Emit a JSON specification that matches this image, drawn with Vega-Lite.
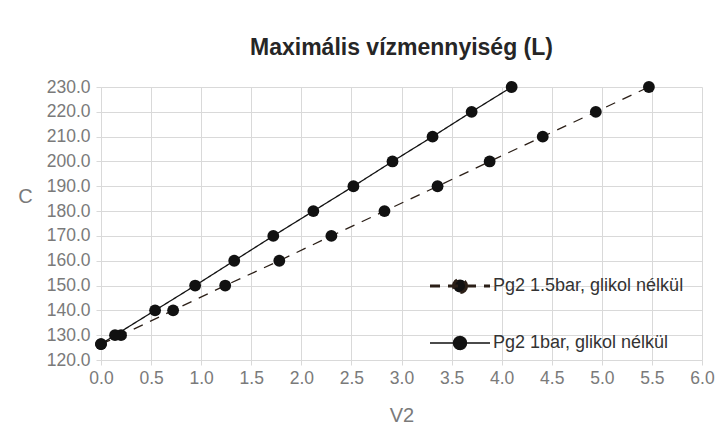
{
  "$schema": "https://vega.github.io/schema/vega-lite/v6.json",
  "width": 601,
  "height": 273,
  "autosize": {"type": "none"},
  "padding": {"left": 101, "top": 87, "right": 24, "bottom": 81},
  "background": "white",
  "config": {
    "font": "Liberation Sans",
    "view": {"stroke": null},
    "axis": {
      "gridColor": "#d9d9d9",
      "domainColor": "#d9d9d9",
      "tickColor": "#d9d9d9",
      "tickSize": 5,
      "labelColor": "#7a7a7a",
      "labelFontSize": 17.5,
      "labelFlush": false,
      "titleColor": "#7a7a7a",
      "titleFontSize": 20,
      "titleFontWeight": "normal"
    }
  },
  "title": {
    "text": "Maximális vízmennyiség (L)",
    "fontSize": 23,
    "fontWeight": "bold",
    "color": "#262626",
    "anchor": "middle",
    "offset": 18
  },
  "data": {
    "values": [
      {"series": "Pg2 1.5bar, glikol nélkül", "V2": 0.0, "C": 126.4},
      {"series": "Pg2 1.5bar, glikol nélkül", "V2": 0.2, "C": 130},
      {"series": "Pg2 1.5bar, glikol nélkül", "V2": 0.72, "C": 140},
      {"series": "Pg2 1.5bar, glikol nélkül", "V2": 1.24, "C": 150},
      {"series": "Pg2 1.5bar, glikol nélkül", "V2": 1.78, "C": 160},
      {"series": "Pg2 1.5bar, glikol nélkül", "V2": 2.3, "C": 170},
      {"series": "Pg2 1.5bar, glikol nélkül", "V2": 2.83, "C": 180},
      {"series": "Pg2 1.5bar, glikol nélkül", "V2": 3.36, "C": 190},
      {"series": "Pg2 1.5bar, glikol nélkül", "V2": 3.88, "C": 200},
      {"series": "Pg2 1.5bar, glikol nélkül", "V2": 4.41, "C": 210},
      {"series": "Pg2 1.5bar, glikol nélkül", "V2": 4.94, "C": 220},
      {"series": "Pg2 1.5bar, glikol nélkül", "V2": 5.47, "C": 230},
      {"series": "Pg2 1bar, glikol nélkül", "V2": 0.0, "C": 126.4},
      {"series": "Pg2 1bar, glikol nélkül", "V2": 0.14, "C": 130},
      {"series": "Pg2 1bar, glikol nélkül", "V2": 0.54, "C": 140},
      {"series": "Pg2 1bar, glikol nélkül", "V2": 0.94, "C": 150},
      {"series": "Pg2 1bar, glikol nélkül", "V2": 1.33, "C": 160},
      {"series": "Pg2 1bar, glikol nélkül", "V2": 1.72, "C": 170},
      {"series": "Pg2 1bar, glikol nélkül", "V2": 2.12, "C": 180},
      {"series": "Pg2 1bar, glikol nélkül", "V2": 2.52, "C": 190},
      {"series": "Pg2 1bar, glikol nélkül", "V2": 2.91, "C": 200},
      {"series": "Pg2 1bar, glikol nélkül", "V2": 3.31, "C": 210},
      {"series": "Pg2 1bar, glikol nélkül", "V2": 3.7, "C": 220},
      {"series": "Pg2 1bar, glikol nélkül", "V2": 4.1, "C": 230}
    ]
  },
  "encoding": {
    "x": {
      "field": "V2",
      "type": "quantitative",
      "scale": {"domain": [0, 6], "nice": false, "zero": false},
      "axis": {
        "values": [0, 0.5, 1, 1.5, 2, 2.5, 3, 3.5, 4, 4.5, 5, 5.5, 6],
        "format": ".1f",
        "title": "V2",
        "labelPadding": 4,
        "titlePadding": 19
      }
    },
    "y": {
      "field": "C",
      "type": "quantitative",
      "scale": {"domain": [120, 230], "nice": false, "zero": false},
      "axis": {
        "values": [120, 130, 140, 150, 160, 170, 180, 190, 200, 210, 220, 230],
        "format": ".1f",
        "title": "C",
        "titleAngle": 0,
        "titleAlign": "center",
        "titleBaseline": "middle",
        "titleX": -76,
        "titleY": 109,
        "labelPadding": 6
      }
    }
  },
  "layer": [
    {
      "mark": {"type": "line", "strokeWidth": 1.3},
      "encoding": {
        "color": {
          "field": "series",
          "type": "nominal",
          "scale": {
            "domain": ["Pg2 1.5bar, glikol nélkül", "Pg2 1bar, glikol nélkül"],
            "range": ["#2b1f17", "#111111"]
          },
          "legend": {
            "title": null,
            "orient": "none",
            "legendX": 350,
            "legendY": 190,
            "symbolType": "M-1,0L1,0M0.22,0L0.2033,0.0842L0.1556,0.1556L0.0842,0.2033L0,0.22L-0.0842,0.2033L-0.1556,0.1556L-0.2033,0.0842L-0.22,0L-0.2033,-0.0842L-0.1556,-0.1556L-0.0842,-0.2033L0,-0.22L0.0842,-0.2033L0.1556,-0.1556L0.2033,-0.0842Z",
            "symbolSize": 3600,
            "symbolStrokeWidth": 2,
            "symbolFillColor": "#111111",
            "rowPadding": 34,
            "labelFontSize": 18,
            "labelLimit": 400,
            "labelColor": "#333333",
            "labelOffset": 24,
            "encode": {
              "symbols": {
                "update": {
                  "strokeWidth": {"signal": "datum.value === 'Pg2 1.5bar, glikol nélkül' ? 3 : 1.3"},
                  "strokeDash": {"signal": "datum.value === 'Pg2 1.5bar, glikol nélkül' ? [13, 8] : [1, 0]"}
                }
              }
            }
          }
        },
        "strokeDash": {
          "field": "series",
          "type": "nominal",
          "scale": {
            "domain": ["Pg2 1.5bar, glikol nélkül", "Pg2 1bar, glikol nélkül"],
            "range": [[10, 8], [1, 0]]
          },
          "legend": null
        }
      }
    },
    {
      "mark": {"type": "point", "filled": true, "size": 140, "opacity": 1, "color": "#111111"},
      "encoding": {
        "detail": {"field": "series", "type": "nominal"}
      }
    }
  ]
}
